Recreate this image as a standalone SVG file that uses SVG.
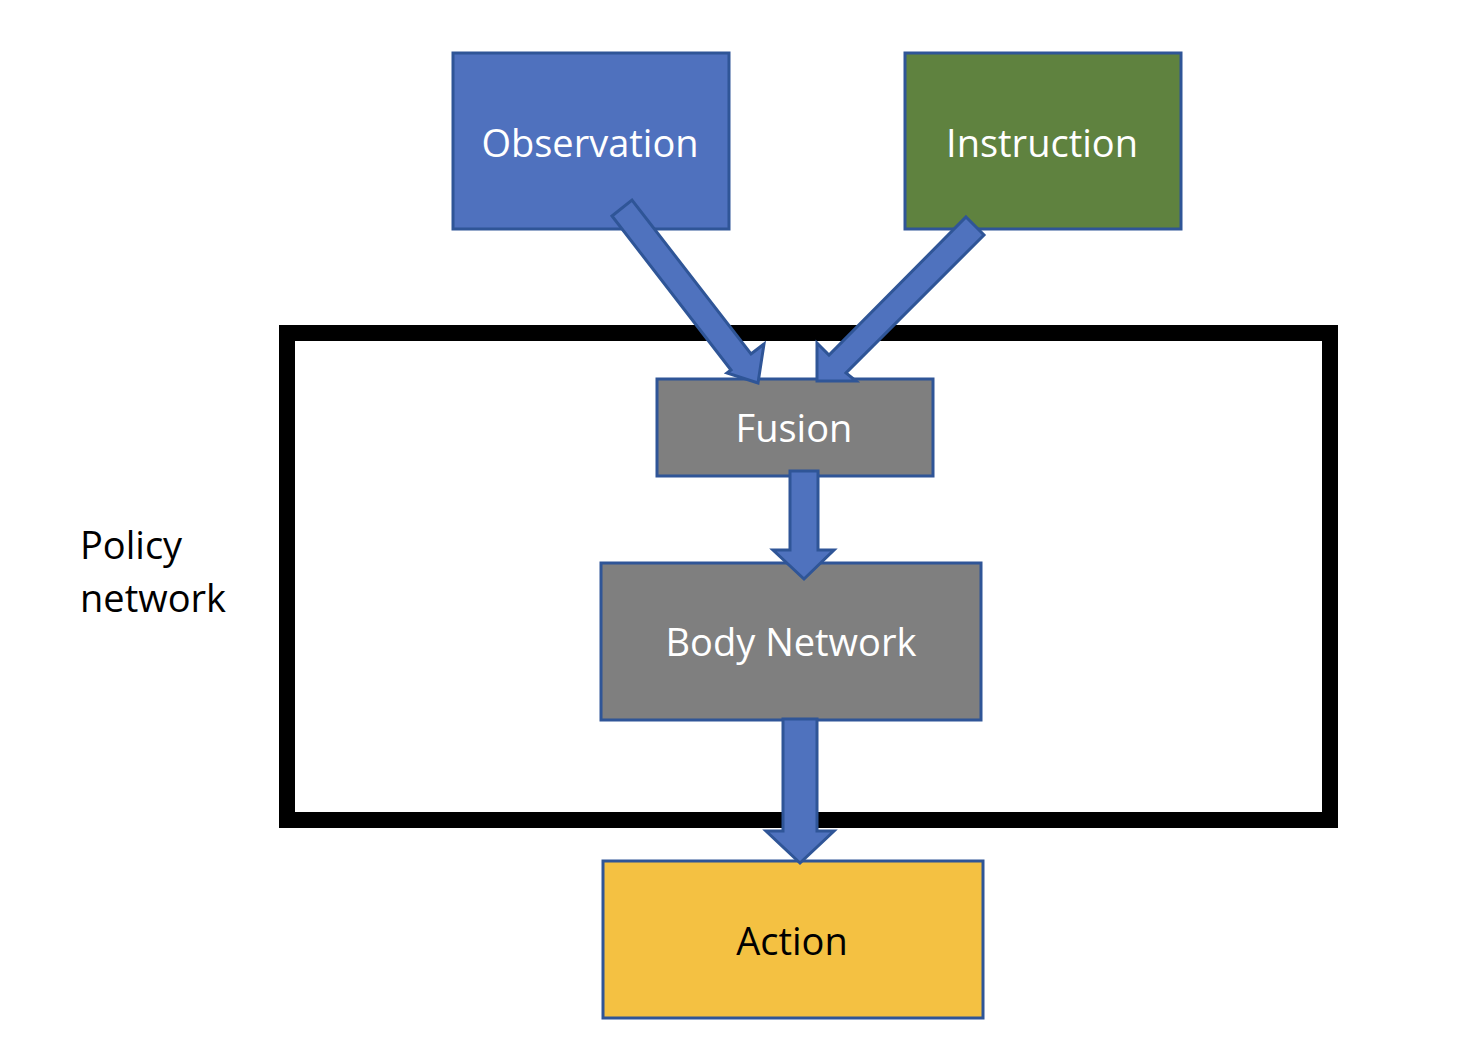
<svg xmlns="http://www.w3.org/2000/svg" width="1476" height="1048" viewBox="0 0 1476 1048">
<style>
.box{stroke:#2F5597;stroke-width:3}
.arrow{fill:#4F72BE;stroke:#2F5597;stroke-width:3;stroke-linejoin:miter}
.lbl{font-family:"Open Sans","Liberation Sans",sans-serif;font-size:38px;fill:#ffffff;text-anchor:middle}
.dark{fill:#000000}
</style>
<rect width="1476" height="1048" fill="#ffffff"/>
<g id="policy-frame">
<rect x="287" y="333" width="1043" height="487" fill="none" stroke="#000000" stroke-width="16"/>
<text x="80" y="559" class="lbl dark" style="text-anchor:start">Policy</text>
<text x="80" y="612" class="lbl dark" style="text-anchor:start">network</text>
</g>
<g id="observation">
<rect x="453" y="53" width="276" height="176" class="box" fill="#4F71BE"/>
<text x="590" y="157" class="lbl">Observation</text>
</g>
<g id="instruction">
<rect x="905" y="53" width="276" height="176" class="box" fill="#5F823F"/>
<text x="1042" y="157" class="lbl">Instruction</text>
</g>
<g id="fusion">
<rect x="657" y="379" width="276" height="97" class="box" fill="#7F7F7F"/>
<text x="794" y="442" class="lbl">Fusion</text>
</g>
<g id="body-network">
<rect x="601" y="563" width="380" height="157" class="box" fill="#7F7F7F"/>
<text x="791" y="656" class="lbl">Body Network</text>
</g>
<g id="action">
<rect x="603" y="861" width="380" height="157" class="box" fill="#F4C142"/>
<text x="792" y="955" class="lbl dark">Action</text>
</g>
<g id="connectors">
<polygon class="arrow" points="612,216 632,200 751,354 764,344 758,383 727,373 731,370"/>
<polygon class="arrow" points="966,217 984,235 846,373 856,381 817,381 817,343 829,355"/>
<polygon class="arrow" points="790,471 818,471 818,550 834,550 804,579 773,550 790,550"/>
<polygon class="arrow" points="783,719 817,719 817,831 834,831 800,863 766,831 783,831"/>
</g>
</svg>
